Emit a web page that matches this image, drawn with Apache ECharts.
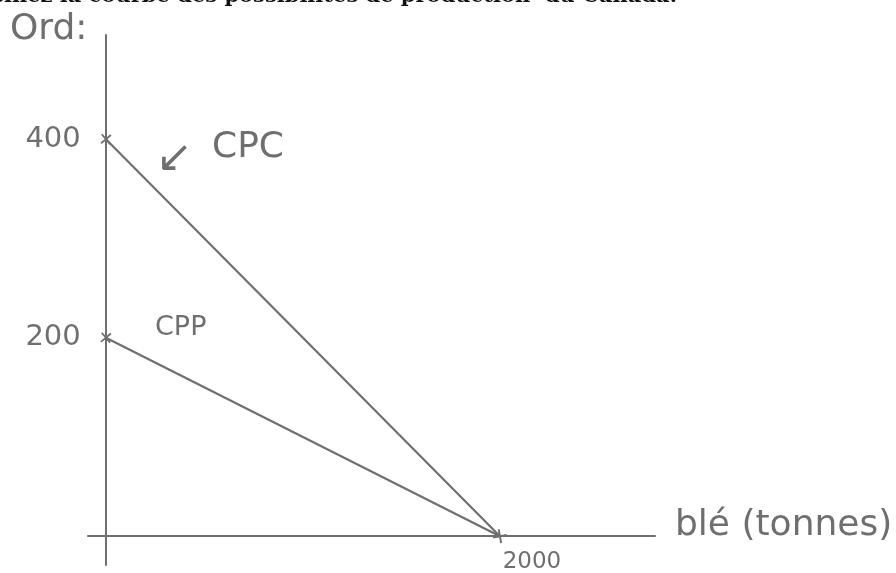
<!DOCTYPE html>
<html>
<head>
<meta charset="utf-8">
<script src="https://cdn.jsdelivr.net/npm/echarts@6/dist/echarts.min.js"></script>
<style>
    html, body { margin: 0; padding: 0; background: #fff; }
    #chart { width: 896px; height: 573px; }
</style>
</head>
<body>
<div id="chart"></div>
<script>
// CPC and CPP: production possibilities, ordinateurs vs blé (tonnes)
var cpcLine = [[0, 400], [2000, 0]];
var cppLine = [[0, 200], [2000, 0]];
var yTicks = [[0, 400], [0, 200]];
var xTicks = [[2000, 0]];

var ink = "#6f6f6f";
var hand = "DejaVu Sans";

var cross = "path://M0,4.3L10,4.3L10,5.7L0,5.7Z M4.3,0L5.7,0L5.7,10L4.3,10Z";

var option = {
    animation: false,
    grid: {
        left: 88,
        right: 241,
        top: 35,
        bottom: 8,
    },
    xAxis: {
        type: "value",
        min: -91,
        max: 2787,
        axisLine: {
            onZero: true,
            lineStyle: { color: ink, width: 2 },
        },
        axisTick: { show: false },
        axisLabel: { show: false },
        splitLine: { show: false },
    },
    yAxis: {
        type: "value",
        min: -29,
        max: 505,
        axisLine: {
            show: true,
            onZero: true,
            lineStyle: { color: ink, width: 2 },
        },
        axisTick: { show: false },
        axisLabel: { show: false },
        splitLine: { show: false },
    },
    series: [
        {
            name: "CPC",
            type: "line",
            data: cpcLine,
            symbol: "none",
            lineStyle: { color: ink, width: 2.2 },
        },
        {
            name: "CPP",
            type: "line",
            data: cppLine,
            symbol: "none",
            lineStyle: { color: ink, width: 2.2 },
        },
        {
            type: "scatter",
            data: yTicks,
            symbol: cross,
            symbolSize: 13,
            symbolRotate: 40,
            itemStyle: { color: ink, opacity: 1 },
            label: {
                show: true,
                position: "left",
                distance: 16,
                formatter: function (p) { return p.value[1]; },
                color: ink,
                fontFamily: hand,
                fontSize: 29,
            },
        },
        {
            type: "scatter",
            data: xTicks,
            symbol: cross,
            symbolSize: 14,
            symbolRotate: 10,
            itemStyle: { color: ink, opacity: 1 },
            label: {
                show: true,
                position: "bottom",
                distance: 6,
                offset: [32, 0],
                formatter: function (p) { return p.value[0]; },
                color: ink,
                fontFamily: hand,
                fontSize: 23,
            },
        },
    ],
    graphic: [
        {
            type: "text",
            style: {
                text: "Dessinez la courbe des possibilités de production  du Canada.",
                fill: "#111",
                font: "bold 21px 'DejaVu Serif'",
                x: 677,
                y: 7,
                align: "right",
                verticalAlign: "bottom",
            },
        },
        {
            type: "text",
            left: 10,
            top: 12,
            style: { text: "Ord:", fill: ink, font: "36px 'DejaVu Sans'" },
        },
        {
            type: "text",
            left: 156,
            top: 138,
            style: { text: "↙", fill: ink, font: "44px 'DejaVu Sans'" },
        },
        {
            type: "text",
            left: 212,
            top: 130,
            style: { text: "CPC", fill: ink, font: "36px 'DejaVu Sans'" },
        },
        {
            type: "text",
            left: 155,
            top: 314,
            style: { text: "CPP", fill: ink, font: "27px 'DejaVu Sans'" },
        },
        {
            type: "text",
            left: 675,
            top: 508,
            style: { text: "blé (tonnes)", fill: ink, font: "36px 'DejaVu Sans'" },
        },
    ],
};

var myChart = echarts.init(document.getElementById("chart"));
myChart.setOption(option);
</script>
</body>
</html>
